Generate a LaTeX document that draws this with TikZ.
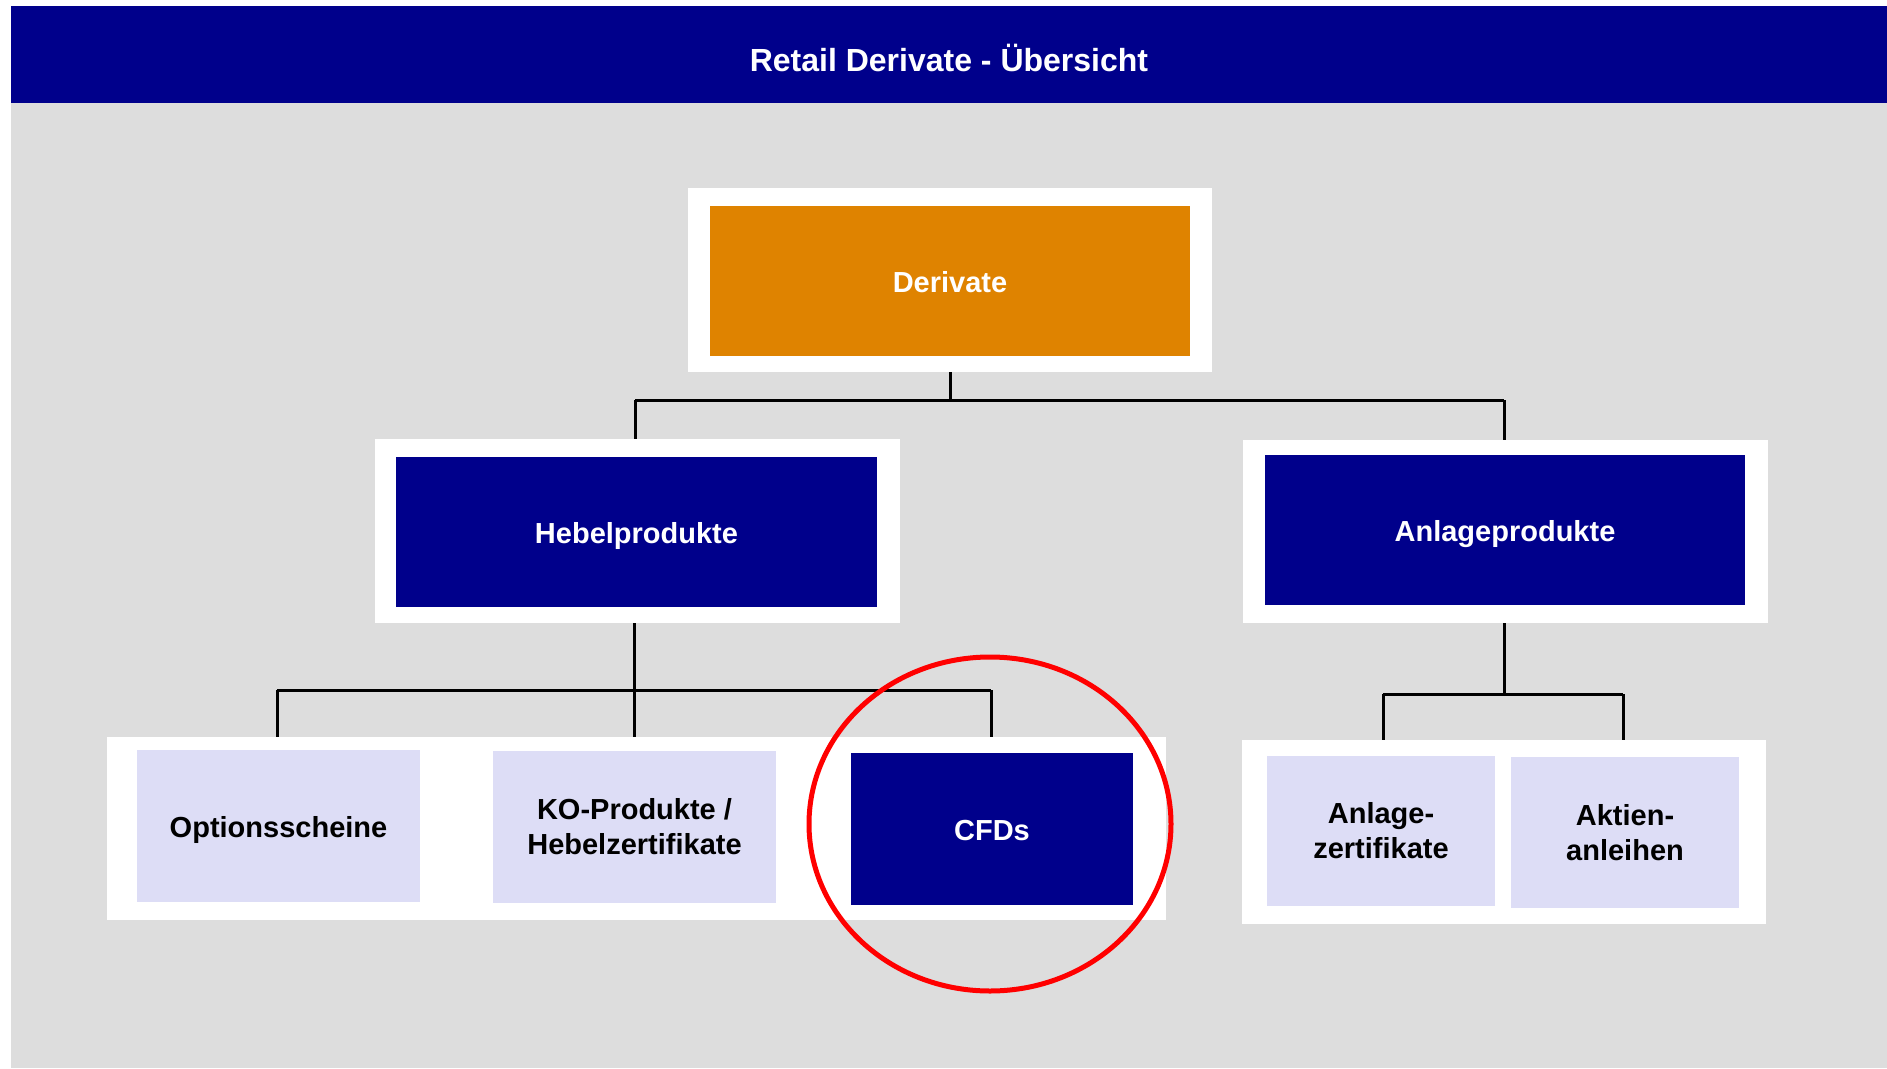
\documentclass[tikz,border=0pt]{standalone}
\usepackage{fontspec}
\setmainfont{Liberation Sans}
\usetikzlibrary{shapes.geometric}
\definecolor{navyc}{RGB}{0,0,139}
\definecolor{orangec}{RGB}{223,131,0}
\definecolor{grayc}{RGB}{221,221,221}
\definecolor{lavc}{RGB}{221,221,246}
\tikzset{
  frame/.style={fill=white, draw=none, inner sep=0pt, rectangle},
  box/.style={draw=none, inner sep=0pt, rectangle, align=center,
    font=\fontsize{29}{35}\selectfont\bfseries},
  oneline/.style={text height=22pt, text depth=0pt},
  darkbox/.style={box, fill=navyc, text=white},
  lightbox/.style={box, fill=lavc, text=black},
  topbox/.style={box, fill=orangec, text=white},
  conn/.style={draw=black, line width=3pt},
}
\begin{document}
\begin{tikzpicture}[x=1pt, y=-1pt]
\useasboundingbox (0,0) rectangle (1887,1068);
\fill[white] (0,0) rectangle (1887,1068);
\fill[grayc] (11,103) rectangle (1887,1068);
\node[fill=navyc, inner sep=0pt, minimum width=1876pt, minimum height=97pt, text=white,
  text height=34pt, text depth=0pt,
  font=\fontsize{32}{38}\selectfont\bfseries] (header) at (949,54.5) {Retail Derivate - Übersicht};
% frames
\node[frame, minimum width=524pt, minimum height=184pt] (derF) at (950,280) {};
\node[frame, minimum width=525pt, minimum height=184pt] (hebF) at (637.5,531) {};
\node[frame, minimum width=525pt, minimum height=183pt] (anlF) at (1505.5,531.5) {};
\node[frame, minimum width=1059pt, minimum height=183pt] (blF) at (636.5,828.5) {};
\node[frame, minimum width=524pt, minimum height=184pt] (brF) at (1504,832) {};
% boxes
\node[topbox, oneline, minimum width=480pt, minimum height=150pt] (der) at (950,281) {Derivate};
\node[darkbox, oneline, minimum width=481pt, minimum height=150pt] (heb) at (636.5,532) {Hebelprodukte};
\node[darkbox, oneline, minimum width=480pt, minimum height=150pt] (anl) at (1505,530) {Anlageprodukte};
\node[lightbox, oneline, minimum width=283pt, minimum height=152pt] (opt) at (278.5,826) {Optionsscheine};
\node[lightbox, minimum width=283pt, minimum height=152pt] (ko) at (634.5,827) {KO-Produkte /\\Hebelzertifikate};
\node[darkbox, oneline, minimum width=282pt, minimum height=152pt] (cfd) at (992,829) {CFDs};
\node[lightbox, minimum width=228pt, minimum height=150pt] (az) at (1381,831) {Anlage-\\zertifikate};
\node[lightbox, minimum width=228pt, minimum height=151pt] (ak) at (1625,832.5) {Aktien-\\anleihen};
% connectors
\coordinate (tj) at (950,400);
\draw[conn] (derF.south) -- (tj);
\draw[conn] (tj -| 635,0) -- (tj -| 1504,0);
\draw[conn] (tj -| 635,0) -- (635,0 |- hebF.north);
\draw[conn] (tj -| 1504,0) -- (1504,0 |- anlF.north);
\coordinate (hj) at (634,690);
\draw[conn] (634,0 |- hebF.south) -- (hj);
\draw[conn] (hj -| 277,0) -- (hj -| 991,0);
\draw[conn] (hj -| 277,0) -- (277,0 |- blF.north);
\draw[conn] (hj) -- (634,0 |- blF.north);
\draw[conn] (hj -| 991,0) -- (991,0 |- blF.north);
\coordinate (aj) at (1504,694);
\draw[conn] (1504,0 |- anlF.south) -- (aj);
\draw[conn] (aj -| 1383,0) -- (aj -| 1623,0);
\draw[conn] (aj -| 1383,0) -- (1383,0 |- brF.north);
\draw[conn] (aj -| 1623,0) -- (1623,0 |- brF.north);
% highlight ring
\node[ellipse, draw=red, line width=5pt, inner sep=0pt, minimum width=362pt, minimum height=334pt] (ring) at (990,824) {};
\end{tikzpicture}
\end{document}
